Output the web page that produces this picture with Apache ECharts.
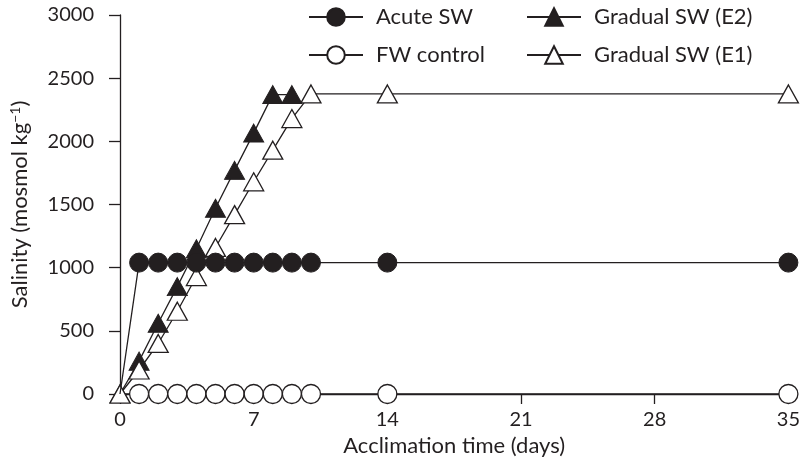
<!DOCTYPE html>
<html>
<head>
<meta charset="utf-8">
<script src="https://cdn.jsdelivr.net/npm/echarts@6/dist/echarts.min.js"></script>
<style>
  html, body { margin: 0; padding: 0; background: #fff; }
  #chart { width: 803px; height: 469px; }
</style>
</head>
<body>
<div id="chart"></div>
<script>
// Acclimation day for each sample
const days = [0, 1, 2, 3, 4, 5, 6, 7, 8, 9, 10, 14, 35];
// Salinity (mosmol kg-1) per treatment
const acuteSW = [0, 1040, 1040, 1040, 1040, 1040, 1040, 1040, 1040, 1040, 1040, 1040, 1040];
const fwControl = [0, 0, 0, 0, 0, 0, 0, 0, 0, 0, 0, 0, 0];
const gradualE2Days = [0, 1, 2, 3, 4, 5, 6, 7, 8, 9];
const gradualE2 = [0, 260, 560, 850, 1150, 1470, 1770, 2065, 2370, 2370];
const gradualE1 = [0, 190, 400, 655, 930, 1160, 1420, 1680, 1930, 2180, 2375, 2375, 2375];
const xTicks = [0, 7, 14, 21, 28, 35];
const yTicks = [0, 500, 1000, 1500, 2000, 2500, 3000];

const INK = '#231f20';
const FONT = 'Lato';

function pairs(xs, ys, hideFirst) {
  return xs.map((x, i) => {
    const p = { value: [x, ys[i]] };
    if (hideFirst && i === 0) p.symbol = 'none';
    return p;
  });
}

const chart = echarts.init(document.getElementById('chart'), null, { renderer: 'canvas' });

const legendText = {
  fontFamily: FONT, fontSize: 22, color: INK, padding: [0, 0, 0, 8]
};

chart.setOption({
  animation: false,
  backgroundColor: '#fff',
  textStyle: { fontFamily: FONT, color: INK },
  grid: { left: 116.5, right: 13, top: 15, bottom: 75 },
  legend: [
    {
      data: ['Acute SW', 'FW control'],
      orient: 'vertical', left: 308, top: 6, padding: 0,
      itemWidth: 54, itemHeight: 22, itemGap: 16,
      textStyle: legendText
    },
    {
      data: ['Gradual SW (E2)', 'Gradual SW (E1)'],
      orient: 'vertical', left: 526, top: 6, padding: 0,
      itemWidth: 54, itemHeight: 22, itemGap: 16,
      textStyle: legendText
    }
  ],
  xAxis: {
    type: 'value', min: xTicks[0], max: xTicks[xTicks.length - 1], interval: 7,
    name: 'Acclimation time (days)', nameLocation: 'middle', nameGap: 35,
    nameTextStyle: { fontFamily: FONT, fontSize: 22, color: INK },
    axisLine: { lineStyle: { color: INK, width: 1.3 } },
    axisTick: { show: true, inside: false, length: 10, lineStyle: { color: INK, width: 1.3 } },
    axisLabel: { fontFamily: FONT, fontSize: 20, color: INK, margin: 16 },
    splitLine: { show: false }
  },
  yAxis: {
    type: 'value', min: yTicks[0], max: yTicks[yTicks.length - 1], interval: 500,
    name: 'Salinity (mosmol kg{sup|−1})', nameLocation: 'middle', nameGap: 88,
    nameTextStyle: {
      fontFamily: FONT, fontSize: 22, color: INK,
      rich: { sup: { fontFamily: FONT, fontSize: 14, color: INK, verticalAlign: 'top', padding: [0, 0, 10, 0] } }
    },
    axisLine: { show: true, lineStyle: { color: INK, width: 1.3 } },
    axisTick: { show: true, inside: false, length: 11, lineStyle: { color: INK, width: 1.3 } },
    axisLabel: {
      fontFamily: FONT, fontSize: 20, color: INK, margin: 26,
      formatter: (v) => String(v)
    },
    splitLine: { show: false }
  },
  series: [
    {
      name: 'FW control', type: 'line', z: 2,
      data: pairs(days, fwControl, true),
      symbol: 'circle', symbolSize: 19,
      itemStyle: { color: '#fff', borderColor: INK, borderWidth: 1.3 },
      lineStyle: { color: INK, width: 1.3 }
    },
    {
      name: 'Gradual SW (E2)', type: 'line', z: 3,
      data: pairs(gradualE2Days, gradualE2, false),
      symbol: 'triangle', symbolSize: [20, 18],
      itemStyle: { color: INK, borderColor: INK, borderWidth: 1 },
      lineStyle: { color: INK, width: 1.3 }
    },
    {
      name: 'Gradual SW (E1)', type: 'line', z: 4,
      data: pairs(days, gradualE1, false),
      symbol: 'triangle', symbolSize: [20, 18],
      itemStyle: { color: '#fff', borderColor: INK, borderWidth: 1.3 },
      lineStyle: { color: INK, width: 1.3 }
    },
    {
      name: 'Acute SW', type: 'line', z: 5,
      data: pairs(days, acuteSW, true),
      symbol: 'circle', symbolSize: 19,
      itemStyle: { color: INK, borderColor: INK, borderWidth: 1 },
      lineStyle: { color: INK, width: 1.3 }
    }
  ]
});
</script>
</body>
</html>
